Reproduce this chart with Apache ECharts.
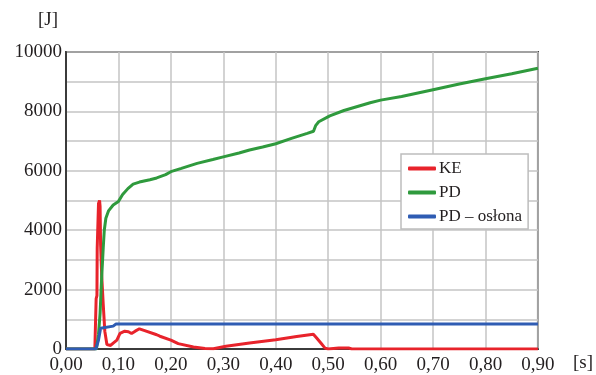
<!DOCTYPE html>
<html><head><meta charset="utf-8">
<script src="https://cdn.jsdelivr.net/npm/echarts@6/dist/echarts.min.js"></script>
<style>html,body{margin:0;padding:0;background:#fff}#c{width:596px;height:375px}</style>
</head><body><div id="c"></div>
<script>
const seriesNames = ['KE', 'PD', 'PD – osłona'];
const keData = [[0,0],[0.055,0],[0.057,0],[0.0575,1700],[0.059,1800],[0.0595,3400],[0.061,3400],[0.062,4900],[0.064,5000],[0.065,4800],[0.066,3500],[0.068,2500],[0.071,1500],[0.074,600],[0.078,150],[0.085,120],[0.09,200],[0.097,300],[0.103,530],[0.112,600],[0.119,580],[0.125,520],[0.132,600],[0.14,680],[0.15,620],[0.173,480],[0.179,430],[0.2,300],[0.214,180],[0.243,70],[0.265,20],[0.281,10],[0.305,90],[0.35,200],[0.40,310],[0.44,420],[0.4717,500],[0.478,370],[0.486,200],[0.494,30],[0.5,0],[0.52,30],[0.54,30],[0.545,0],[0.9,0]];
const pdData = [[0,0],[0.058,0],[0.062,500],[0.065,1200],[0.068,2400],[0.071,3400],[0.073,4000],[0.076,4400],[0.081,4650],[0.09,4850],[0.1,4970],[0.108,5200],[0.118,5400],[0.128,5550],[0.14,5620],[0.16,5700],[0.173,5760],[0.19,5870],[0.2,5970],[0.22,6080],[0.25,6250],[0.28,6380],[0.3,6470],[0.33,6600],[0.35,6700],[0.375,6800],[0.4,6910],[0.43,7090],[0.46,7260],[0.472,7330],[0.476,7520],[0.482,7650],[0.503,7850],[0.53,8030],[0.58,8290],[0.6,8380],[0.64,8500],[0.7,8730],[0.75,8920],[0.8,9100],[0.85,9270],[0.9,9450]];
const oslonaData = [[0,0],[0.057,0],[0.062,300],[0.066,700],[0.068,760],[0.09,770],[0.095,840],[0.1,840],[0.9,840]];
const colors = ['#e8232b', '#2f9a3d', '#2f5cb3'];

const font = 'Liberation Serif';
const chart = echarts.init(document.getElementById('c'), null, {renderer:'canvas'});
chart.setOption({
  animation: false,
  color: colors,
  grid: {left: 66, right: 58, top: 52, bottom: 24, show: true, borderColor: '#3b3b3b', borderWidth: 2, backgroundColor: 'transparent'},
  legend: {
    left: 401, top: 154, orient: 'vertical', itemGap: 7,
    backgroundColor: '#fff', borderColor: '#bdbdbd', borderWidth: 1.5, borderRadius: 0,
    padding: [6, 6, 4, 7], itemWidth: 28, itemHeight: 4, icon: 'roundRect',
    textStyle: {fontFamily: font, fontSize: 17, color: '#231f20', padding: [0,0,0,-2]},
    data: seriesNames
  },
  xAxis: {
    type: 'value', min: 0, max: 0.9, interval: 0.1,
    name: '[s]', nameLocation: 'end', nameGap: 35,
    nameTextStyle: {fontFamily: font, fontSize: 19, color: '#231f20', verticalAlign: 'top', padding: [5,0,0,0]},
    axisLine: {show: true, lineStyle: {color: '#3b3b3b', width: 2}},
    axisTick: {show: false},
    splitLine: {show: true, lineStyle: {color: '#c4c4c4', width: 1.5}},
    axisLabel: {fontFamily: font, fontSize: 19, color: '#231f20', margin: 7,
      formatter: v => v.toFixed(2).replace('.', ',')}
  },
  yAxis: {
    type: 'value', min: 0, max: 10000, interval: 1000,
    name: '[J]', nameLocation: 'end', nameGap: 22,
    nameTextStyle: {fontFamily: font, fontSize: 19, color: '#231f20', align: 'right', padding: [0, 8, 0, 0]},
    axisLine: {show: true, lineStyle: {color: '#3b3b3b', width: 2}},
    axisTick: {show: false},
    splitLine: {show: true, lineStyle: {color: '#c4c4c4', width: 1.5}},
    axisLabel: {fontFamily: font, fontSize: 19, color: '#231f20', margin: 4,
      formatter: v => (v % 2000 === 0 ? String(v) : '')}
  },
  series: [
    {name: seriesNames[0], type: 'line', data: keData, symbol: 'none', lineStyle: {width: 3}},
    {name: seriesNames[1], type: 'line', data: pdData, symbol: 'none', lineStyle: {width: 3}},
    {name: seriesNames[2], type: 'line', data: oslonaData, symbol: 'none', lineStyle: {width: 3}}
  ]
});
</script></body></html>
